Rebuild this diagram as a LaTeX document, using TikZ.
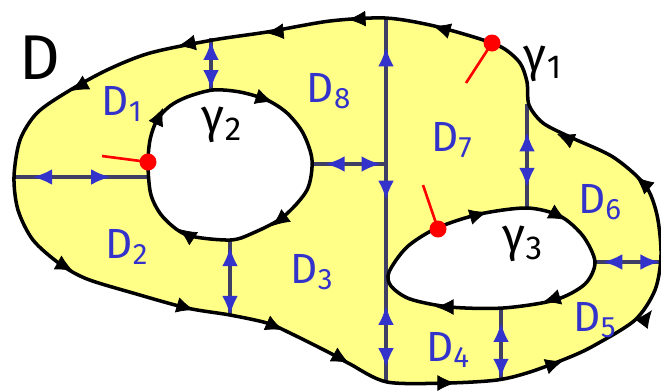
\documentclass[tikz,border=0pt]{standalone}
\usepackage{fontspec}
\setmainfont{Fira Sans}
\usetikzlibrary{arrows.meta,decorations.markings}

\definecolor{areafill}{HTML}{FFFF88}
\definecolor{cutblue}{HTML}{3333CC}
\definecolor{cutline}{HTML}{3F3F66}

% boundary curves (coordinates in pixels, y downwards)
\newcommand{\outerline}{plot[smooth cycle] coordinates {(14,177) (20,140) (37,113) (67,92) (107,70) (150,53) (213,40) (267,32) (330,21) (385,18) (430,25) (477,38) (503,48) (520,63) (527,82) (529,105) (543,123) (570,137) (613,157) (645,185) (657,215) (661,255) (655,290) (635,320) (595,345) (570,357) (530,372) (497,380) (447,383) (387,382) (350,364) (330,353) (290,333) (267,323) (230,315) (187,308) (133,293) (87,279) (60,264) (33,240) (18,210)}}
\newcommand{\holetwo}{plot[smooth cycle] coordinates {(148,165) (150,140) (157,120) (170,106) (187,97) (213,90) (240,92) (267,100) (287,113) (303,133) (312,160) (307,190) (283,217) (253,233) (230,240) (187,235) (163,217) (151,195)}}
\newcommand{\holethree}{plot[smooth cycle] coordinates {(389,272) (407,247) (437,228) (480,214) (527,208) (560,216) (583,236) (595,262) (585,284) (555,300) (503,308) (450,307) (410,299) (391,286)}}

\begin{document}
\begin{tikzpicture}[
    x=0.02cm, y=-0.02cm,
    boundary/.style={draw=black, line width=2pt, line join=round},
    cut/.style={draw=cutline, line width=1.8pt},
    twoway/.style 2 args={postaction={decorate, decoration={markings,
        mark=at position #1 with {\arrowreversed{Latex[length=11pt,width=9pt,color=cutblue]}},
        mark=at position #2 with {\arrow{Latex[length=11pt,width=9pt,color=cutblue]}}}}},
    bhead/.style={decorate, decoration={markings,
        mark=at position 1 with {\arrow{Latex[length=10pt,width=9pt]}}}},
    dlab/.style={text=cutblue, font=\fontsize{24}{26}\selectfont, inner sep=0pt},
    glab/.style={font=\fontsize{27}{29}\selectfont, inner sep=0pt},
    redstroke/.style={draw=red, line width=1.5pt},
    reddot/.style={fill=red}
]

\useasboundingbox[fill=white] (0,0) rectangle (661,390);

% shaded domain
\fill[areafill, even odd rule] \outerline \holetwo \holethree;

% cut end points
\coordinate (cutAl) at (14,177);   \coordinate (cutAr) at (148,177);
\coordinate (cutBt) at (211,38);   \coordinate (cutBb) at (211,91);
\coordinate (cutCt) at (230,240);  \coordinate (cutCb) at (230,316);
\coordinate (cutDl) at (312,164);  \coordinate (cutDr) at (386,164);
\coordinate (cutEt) at (386,18);   \coordinate (cutEb) at (386,382);
\coordinate (cutFt) at (527,104);  \coordinate (cutFb) at (527,208);
\coordinate (cutGt) at (501,308);  \coordinate (cutGb) at (501,381);
\coordinate (cutHl) at (595,262);  \coordinate (cutHr) at (661,262);

% cuts
\draw[cut, twoway={0.14}{0.72}] (cutAl) -- (cutAr);
\draw[cut, twoway={0.05}{0.97}] (cutBt) -- (cutBb);
\draw[cut, twoway={0.09}{0.99}] (cutCt) -- (cutCb);
\draw[cut, twoway={0.18}{0.93}] (cutDl) -- (cutDr);
\draw[cut, twoway={0.08}{0.50}, twoway={0.79}{0.96}] (cutEt) -- (cutEb);
\draw[cut, twoway={0.27}{0.80}] (cutFt) -- (cutFb);
\draw[cut, twoway={0.20}{0.96}] (cutGt) -- (cutGb);
\draw[cut, twoway={0.12}{0.98}] (cutHl) -- (cutHr);

% boundaries
\draw[boundary] \outerline;
\draw[boundary] \holetwo;
\draw[boundary] \holethree;

% orientation of the outer curve
\path[bhead] (358,19) -- (348,19.5);
\path[bhead] (443,29) -- (433,26);
\path[bhead] (276,32) -- (266,33);
\path[bhead] (188,44) -- (178,46);
\path[bhead] (80,86) -- (71,91);
\path[bhead] (64,266) -- (73,271);
\path[bhead] (184,307) -- (194,310);
\path[bhead] (274,326) -- (283,330);
\path[bhead] (340,358) -- (349,363);
\path[bhead] (445,383) -- (455,383);
\path[bhead] (554,364) -- (563,361);
\path[bhead] (646,318) -- (652,310);
\path[bhead] (643,183) -- (636,177);
\path[bhead] (566,138) -- (557,134);

% orientation of the holes
\path[bhead] (159,117) -- (163,108);
\path[bhead] (264,99) -- (273,102);
\path[bhead] (280,220) -- (272,226);
\path[bhead] (188,235) -- (179,229);
\path[bhead] (477,215) -- (487,212);
\path[bhead] (557,215) -- (566,220);
\path[bhead] (553,299) -- (543,302);
\path[bhead] (446,307) -- (436,307);

% starting points
\node[reddot, circle, inner sep=0pt, minimum size=0.34cm] (startone) at (492,43) {};
\node[reddot, circle, inner sep=0pt, minimum size=0.34cm] (starttwo) at (148,162) {};
\node[reddot, circle, inner sep=0pt, minimum size=0.34cm] (startthree) at (438,229) {};
\coordinate (tailone) at (466,83);
\coordinate (tailtwo) at (102,156);
\coordinate (tailthree) at (423,185);
\draw[redstroke] (tailone) -- (startone.center);
\draw[redstroke] (tailtwo) -- (starttwo.center);
\draw[redstroke] (tailthree) -- (startthree.center);

% labels
\node[font=\fontsize{36}{40}\selectfont, inner sep=0pt] (labD) at (40,58) {D};
\node[glab] (labgone) at (543,64) {γ\textsubscript{1}};
\node[glab] (labgtwo) at (222,125) {γ\textsubscript{2}};
\node[glab] (labgthree) at (523,244) {γ\textsubscript{3}};
\node[dlab] (labDone) at (122,104) {D\textsubscript{1}};
\node[dlab] (labDtwo) at (127,247) {D\textsubscript{2}};
\node[dlab] (labDthree) at (312,272) {D\textsubscript{3}};
\node[dlab] (labDfour) at (448,350) {D\textsubscript{4}};
\node[dlab] (labDfive) at (595,320) {D\textsubscript{5}};
\node[dlab] (labDsix) at (600,202) {D\textsubscript{6}};
\node[dlab] (labDseven) at (452,140) {D\textsubscript{7}};
\node[dlab] (labDeight) at (329,91) {D\textsubscript{8}};

\end{tikzpicture}
\end{document}
